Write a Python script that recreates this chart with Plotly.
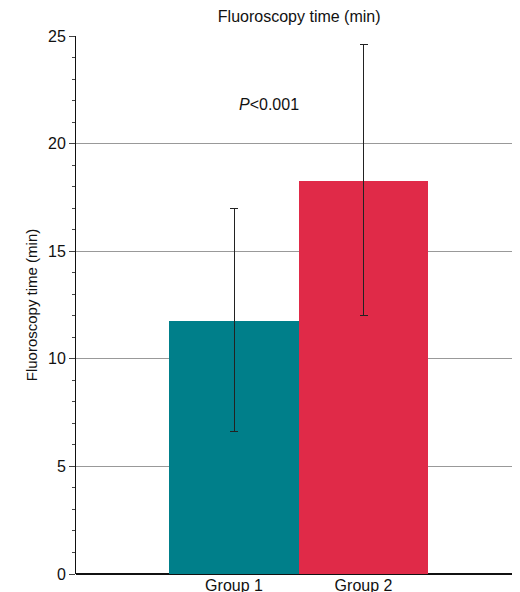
import plotly.graph_objects as go

categories = ["Group 1", "Group 2"]
means = [11.75, 18.25]
err_plus = [5.25, 6.35]
err_minus = [5.15, 6.25]
colors = ["#007F8A", "#E02A48"]

fig = go.Figure(go.Bar(
    x=[1, 2], y=means, width=1, marker_color=colors, marker_line_width=0,
    error_y=dict(type="data", array=err_plus, arrayminus=err_minus,
                 color="#222", thickness=1, width=4),
))
fig.update_layout(
    width=520, height=592, margin=dict(l=68, r=0, t=28, b=26),
    plot_bgcolor="white", paper_bgcolor="white",
    font=dict(family="Liberation Sans, Arial", size=16, color="#111"),
    title=dict(text="Fluoroscopy time (min)", x=0.56, xanchor="center", y=0.995, yanchor="top",
               font=dict(size=16)),
    showlegend=False, bargap=0,
)
fig.update_xaxes(range=[-0.22, 3.27], tickvals=[1, 2], ticktext=categories,
                 showline=False, showgrid=False, zeroline=False, ticks="",
                 tickfont=dict(size=16))
fig.update_yaxes(range=[0, 25], dtick=5, showgrid=True, gridcolor="#999", gridwidth=1,
                 showline=True, linecolor="#111", ticks="outside", ticklen=6,
                 tickfont=dict(size=16),
                 minor=dict(dtick=1, ticks="outside", ticklen=3, showgrid=False),
                 zeroline=True, zerolinecolor="#111",
                 title=dict(text="Fluoroscopy time (min)", standoff=6, font=dict(size=15)))
fig.add_annotation(x=1.27, y=21.8, text="<i>P</i><0.001", showarrow=False,
                   font=dict(size=16))
fig.write_html("out.html")
